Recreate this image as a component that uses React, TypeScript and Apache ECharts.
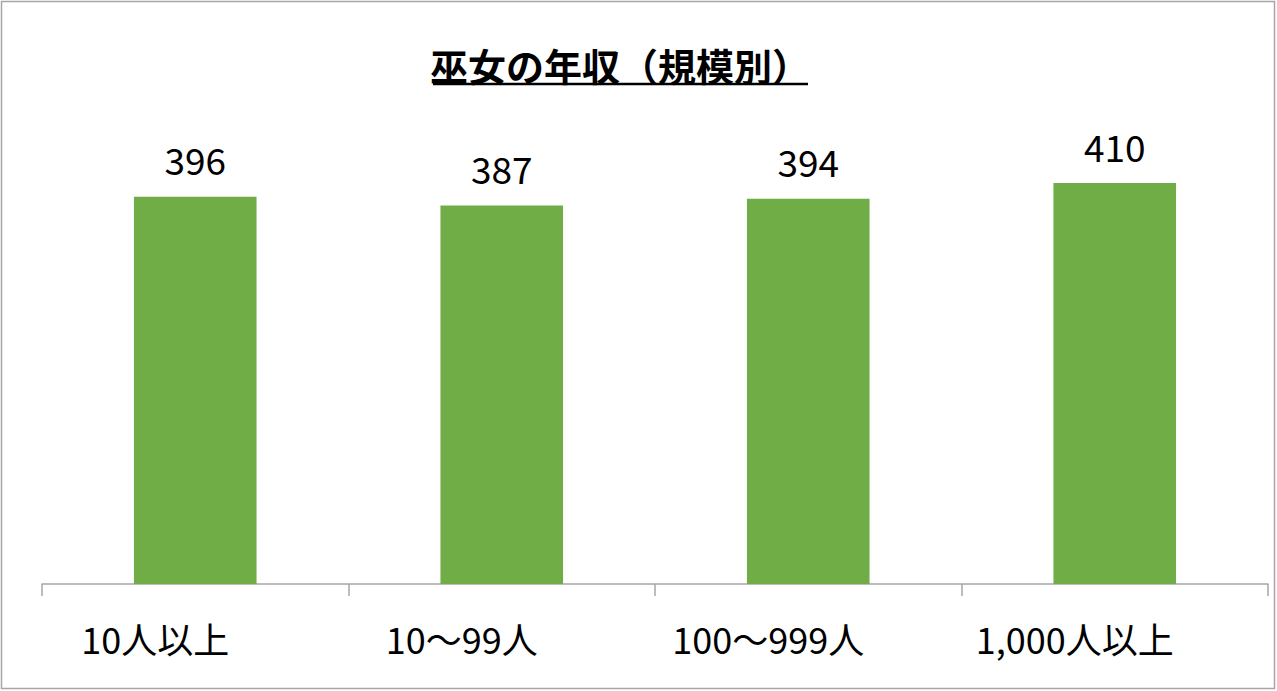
import { useEffect, useRef } from "react";
import * as echarts from "echarts";

const categories = ["10人以上", "10～99人", "100～999人", "1,000人以上"];
const incomes = [396, 387, 394, 410];
const titleText = "巫女の年収（規模別）";

const FONT = "'Noto Sans CJK JP', 'Noto Sans', sans-serif";

export default function App() {
  const chartRef = useRef<HTMLDivElement | null>(null);

  useEffect(() => {
    if (!chartRef.current) return;
    const chart = echarts.init(chartRef.current, undefined, { renderer: "svg" });

    chart.setOption({
      animation: false,
      backgroundColor: "#ffffff",
      grid: { left: 42, right: 9, top: 144, bottom: 107 },
      graphic: [
        {
          type: "rect",
          shape: { x: 1.5, y: 1.5, width: 1273, height: 687 },
          style: { fill: "none", stroke: "#a6a6a6", lineWidth: 1.5 },
        },
        {
          type: "text",
          x: 620,
          y: 64,
          style: {
            text: titleText,
            fontFamily: FONT,
            fontSize: 38,
            fontWeight: "bold",
            fill: "#000000",
            align: "center",
            verticalAlign: "middle",
          },
        },
        {
          type: "line",
          shape: { x1: 433, y1: 84, x2: 808, y2: 84 },
          style: { stroke: "#000000", lineWidth: 2.5 },
        },
      ],
      xAxis: {
        type: "category",
        data: categories,
        axisLine: { show: true, lineStyle: { color: "#a6a6a6", width: 1.5 } },
        axisTick: {
          show: true,
          length: 12,
          lineStyle: { color: "#a6a6a6", width: 1.5 },
        },
        axisLabel: {
          interval: 0,
          color: "#000000",
          fontFamily: FONT,
          fontSize: 36,
          margin: 36,
          padding: [0, 80, 0, 0],
        },
      },
      yAxis: {
        type: "value",
        min: 0,
        max: 450,
        show: false,
        splitLine: { show: false },
      },
      series: [
        {
          type: "bar",
          data: incomes,
          barWidth: "40%",
          itemStyle: { color: "#70ad47" },
          label: {
            show: true,
            position: "top",
            distance: 19,
            color: "#000000",
            fontFamily: FONT,
            fontSize: 37,
          },
        },
      ],
    });

    return () => {
      chart.dispose();
    };
  }, []);

  return (
    <div
      style={{
        position: "absolute",
        left: 0,
        top: 0,
        width: 1277,
        height: 691,
        background: "#ffffff",
      }}
    >
      <div ref={chartRef} style={{ width: 1277, height: 691 }} />
    </div>
  );
}
